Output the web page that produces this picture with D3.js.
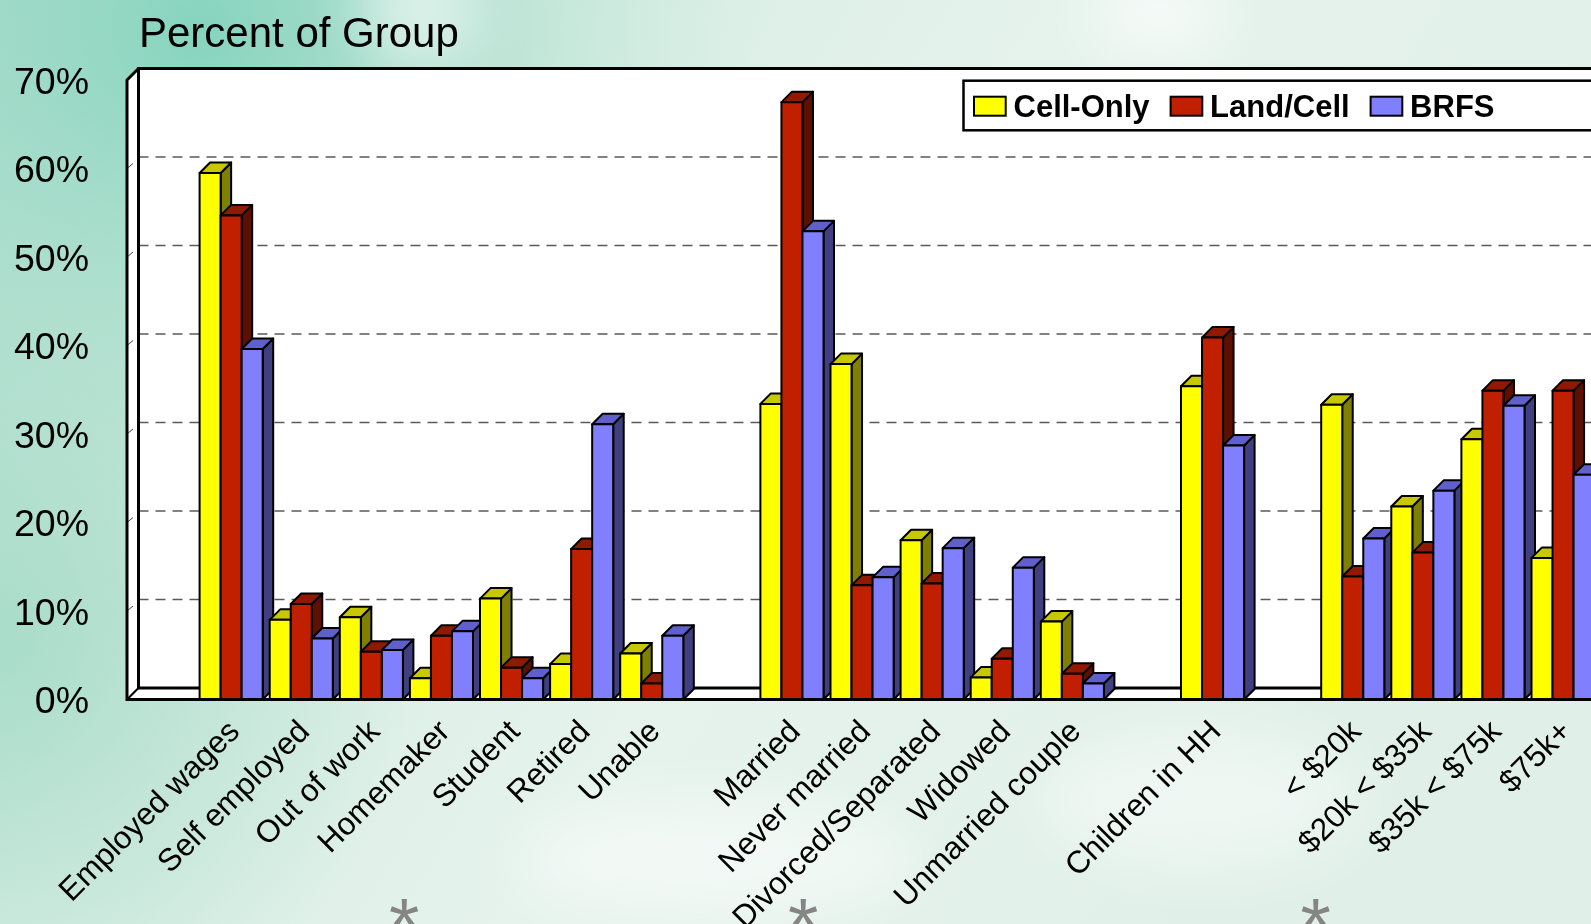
<!DOCTYPE html>
<html>
<head>
<meta charset="utf-8">
<script src="https://cdn.jsdelivr.net/npm/d3@7"></script>
<style>
  html, body { margin: 0; padding: 0; overflow: hidden; background: #e3f1ea; }
  svg { display: block; }
</style>
</head>
<body>
<svg id="chart" width="1591" height="924"></svg>
<script>
// ---- data ----
const titleText = "Percent of Group";
const seriesNames = ["Cell-Only", "Land/Cell", "BRFS"];
const categories = [
  "Employed wages", "Self employed", "Out of work", "Homemaker", "Student", "Retired", "Unable",
  "Married", "Never married", "Divorced/Separated", "Widowed", "Unmarried couple",
  "Children in HH",
  "< $20k", "$20k < $35k", "$35k < $75k", "$75k+"
];
// number of categories in each block (a blank slot precedes every block)
const groupSizes = [7, 5, 1, 4];
// blocks flagged with an asterisk
const flaggedGroups = [0, 1, 3];
const cellOnly = [59.5, 9.0, 9.3, 2.4, 11.4, 4.0, 5.2, 33.4, 37.9, 18.0, 2.5, 8.8, 35.4, 33.3, 21.8, 29.4, 16.0];
const landCell = [54.7, 10.8, 5.4, 7.2, 3.6, 17.0, 1.8, 67.5, 12.9, 13.1, 4.6, 2.9, 40.9, 13.9, 16.6, 34.9, 34.9];
const brfs     = [39.6, 6.9, 5.6, 7.7, 2.4, 31.1, 7.2, 52.9, 13.8, 17.1, 14.9, 1.8, 28.7, 18.2, 23.6, 33.2, 25.4];
const yTicks = [0, 10, 20, 30, 40, 50, 60, 70];

// ---- layout ----
const W = 1591, H = 924;
const svg = d3.select("#chart");
const defs = svg.append("defs");
const FONT = "Liberation Sans, Arial, sans-serif";

const frontLeft = 127;      // front edge of the left wall
const slotStep = 70.1;      // width of one category slot
const wallDepth = 11.5;     // 3-D depth of walls / floor
const barDepth = 10.5;      // 3-D depth of each column
const barGap = 7;           // space between neighbouring clusters

// slot list: blank slot, then the categories of each block
const slots = [];
let ci = 0;
const groupStartSlot = [];
groupSizes.forEach(n => {
  slots.push(null);
  groupStartSlot.push(slots.length);
  for (let k = 0; k < n; k++) slots.push(ci++);
});
const nSlots = slots.length;

const x = d3.scaleBand()
  .domain(d3.range(nSlots))
  .range([frontLeft - 1, frontLeft - 1 + slotStep * nSlots])
  .padding(0);
const xs = d3.scaleBand()
  .domain(seriesNames)
  .range([barGap / 2, x.bandwidth() - barGap / 2])
  .padding(0);
const y = d3.scaleLinear().domain([0, 70]).range([699.5, 80]);
const rightEdge = W + 60;

const seriesValues = [cellOnly, landCell, brfs];
const palette = [
  { front: "#ffff00", top: "#c8c800", side: "#7f7f00" },
  { front: "#c02000", top: "#8f1a00", side: "#5e1000" },
  { front: "#8080ff", top: "#6060cc", side: "#404080" }
];

// ---- background ----
const base = defs.append("linearGradient").attr("id", "bgBase")
  .attr("x1", 0).attr("x2", 1).attr("y1", 0).attr("y2", 0.35);
base.append("stop").attr("offset", 0).attr("stop-color", "#a9dccb");
base.append("stop").attr("offset", 0.3).attr("stop-color", "#d6ede3");
base.append("stop").attr("offset", 0.6).attr("stop-color", "#e6f3ed");
base.append("stop").attr("offset", 1).attr("stop-color", "#e0f0e8");

const tl = defs.append("radialGradient").attr("id", "bgTL")
  .attr("gradientUnits", "userSpaceOnUse")
  .attr("cx", 200).attr("cy", 30).attr("r", 560);
tl.append("stop").attr("offset", 0).attr("stop-color", "#86d4be").attr("stop-opacity", 1);
tl.append("stop").attr("offset", 0.45).attr("stop-color", "#9fdac7").attr("stop-opacity", 0.6);
tl.append("stop").attr("offset", 1).attr("stop-color", "#bfe5d7").attr("stop-opacity", 0);

const bl = defs.append("radialGradient").attr("id", "bgBL")
  .attr("gradientUnits", "userSpaceOnUse")
  .attr("cx", 0).attr("cy", 640).attr("r", 420);
bl.append("stop").attr("offset", 0).attr("stop-color", "#a6dbc8").attr("stop-opacity", 0.9);
bl.append("stop").attr("offset", 1).attr("stop-color", "#a6dbc8").attr("stop-opacity", 0);

defs.append("filter").attr("id", "haze")
  .attr("x", "-50%").attr("y", "-50%").attr("width", "200%").attr("height", "200%")
  .append("feGaussianBlur").attr("stdDeviation", 28);

const bg = svg.append("g");
bg.append("rect").attr("width", W).attr("height", H).attr("fill", "url(#bgBase)");
bg.append("rect").attr("width", W).attr("height", H).attr("fill", "url(#bgTL)");
bg.append("rect").attr("width", W).attr("height", H).attr("fill", "url(#bgBL)");
// soft light streaks
const streaks = bg.append("g").attr("filter", "url(#haze)").attr("fill", "#ffffff");
streaks.append("ellipse").attr("cx", 420).attr("cy", 10).attr("rx", 60).attr("ry", 60).attr("opacity", 0.55);
streaks.append("ellipse").attr("cx", 1160).attr("cy", 15).attr("rx", 70).attr("ry", 45).attr("opacity", 0.6);
streaks.append("ellipse").attr("cx", 720).attr("cy", 860).attr("rx", 200).attr("ry", 60).attr("opacity", 0.5);
streaks.append("ellipse").attr("cx", 1200).attr("cy", 800).attr("rx", 160).attr("ry", 70).attr("opacity", 0.45);

// ---- title ----
svg.append("text")
  .attr("x", 139).attr("y", 46.5)
  .attr("font-family", FONT)
  .attr("font-size", 42)
  .attr("fill", "#000")
  .text(titleText);

// ---- walls and floor ----
const backLeft = frontLeft + wallDepth;
const yBack = v => y(v) - wallDepth;
const plot = svg.append("g");
const line = d3.line();

plot.append("path") // back wall
  .attr("d", line([[backLeft, yBack(70)], [rightEdge, yBack(70)], [rightEdge, yBack(0)], [backLeft, yBack(0)]]) + "Z")
  .attr("fill", "#fff");
plot.append("path") // left wall
  .attr("d", line([[frontLeft, y(70)], [backLeft, yBack(70)], [backLeft, yBack(0)], [frontLeft, y(0)]]) + "Z")
  .attr("fill", "#fff");
plot.append("path") // floor
  .attr("d", line([[frontLeft, y(0)], [backLeft, yBack(0)], [rightEdge, yBack(0)], [rightEdge, y(0)]]) + "Z")
  .attr("fill", "#fff");

// gridlines on the back wall
plot.append("g").selectAll("line")
  .data(yTicks.filter(t => t > 0 && t < 70))
  .join("line")
  .attr("x1", backLeft).attr("x2", rightEdge)
  .attr("y1", d => yBack(d)).attr("y2", d => yBack(d))
  .attr("stroke", "#5a5a5a").attr("stroke-width", 1.5)
  .attr("stroke-dasharray", "10,7");

// tick marks on the left wall edge
plot.append("g").selectAll("line")
  .data(yTicks.filter(t => t > 0 && t < 70))
  .join("line")
  .attr("x1", frontLeft).attr("y1", d => y(d))
  .attr("x2", frontLeft + 6).attr("y2", d => y(d) - 5)
  .attr("stroke", "#444").attr("stroke-width", 1);

// frame edges
const edges = plot.append("g").attr("fill", "none").attr("stroke", "#000")
  .attr("stroke-linejoin", "round").attr("stroke-linecap", "square");
edges.append("path").attr("stroke-width", 3)
  .attr("d", line([[rightEdge, yBack(70)], [backLeft, yBack(70)], [frontLeft, y(70)], [frontLeft, y(0)]]));
edges.append("path").attr("stroke-width", 3)
  .attr("d", line([[backLeft, yBack(70)], [backLeft, yBack(0)], [rightEdge, yBack(0)]]));
edges.append("path").attr("stroke-width", 2)
  .attr("d", line([[frontLeft, y(0)], [backLeft, yBack(0)]]));

// ---- columns ----
const bars = [];
slots.forEach((c, si) => {
  if (c === null) return;
  seriesNames.forEach((s, k) => {
    bars.push({ slot: si, cat: c, series: k, value: seriesValues[k][c] });
  });
});

const barG = plot.append("g")
  .attr("stroke", "#000").attr("stroke-width", 2).attr("stroke-linejoin", "round");
bars.forEach(b => {
  const x0 = x(b.slot) + xs(seriesNames[b.series]);
  const w = xs.bandwidth();
  const yt = y(b.value), yb = y(0), d = barDepth;
  const col = palette[b.series];
  const g = barG.append("g");
  g.append("path")
    .attr("d", line([[x0 + w, yt], [x0 + w + d, yt - d], [x0 + w + d, yb - d], [x0 + w, yb]]) + "Z")
    .attr("fill", col.side);
  g.append("path")
    .attr("d", line([[x0, yt], [x0 + d, yt - d], [x0 + w + d, yt - d], [x0 + w, yt]]) + "Z")
    .attr("fill", col.top);
  g.append("rect")
    .attr("x", x0).attr("y", yt).attr("width", w).attr("height", yb - yt)
    .attr("fill", col.front);
});

// front edge of the floor
plot.append("line")
  .attr("x1", frontLeft).attr("x2", rightEdge)
  .attr("y1", y(0)).attr("y2", y(0))
  .attr("stroke", "#000").attr("stroke-width", 3);

// ---- y axis labels ----
svg.append("g").selectAll("text")
  .data(yTicks)
  .join("text")
  .attr("x", 89)
  .attr("y", d => y(d) + 13.5)
  .attr("text-anchor", "end")
  .attr("font-family", FONT)
  .attr("font-size", 37.5)
  .attr("fill", "#000")
  .text(d => d + "%");

// ---- category labels ----
svg.append("g").selectAll("text")
  .data(slots.map((c, si) => ({ c, si })).filter(d => d.c !== null))
  .join("text")
  .attr("transform", d => `translate(${x(d.si) + x.bandwidth() / 2 + 10},733) rotate(-45)`)
  .attr("text-anchor", "end")
  .attr("font-family", FONT)
  .attr("font-size", 31.5)
  .attr("fill", "#000")
  .text(d => categories[d.c]);

// ---- asterisks under flagged blocks ----
const slotPos = d3.scaleLinear().domain([0, nSlots]).range(x.range());
const starOffset = [2.97, 0.66, -0.03]; // position within each block, in slot units
svg.append("g").selectAll("text")
  .data(flaggedGroups.map((g, i) => ({ g, i })))
  .join("text")
  .attr("x", d => slotPos(groupStartSlot[d.g] + starOffset[d.i]))
  .attr("y", 953)
  .attr("text-anchor", "middle")
  .attr("font-family", FONT)
  .attr("font-size", 78)
  .attr("fill", "#858585")
  .text("*");

// ---- legend ----
const legend = svg.append("g");
legend.append("rect")
  .attr("x", 963.5).attr("y", 80.7).attr("width", 700).attr("height", 49.6)
  .attr("fill", "#fff").attr("stroke", "#000").attr("stroke-width", 2.5);
let lx = 974;
seriesNames.forEach((s, k) => {
  legend.append("rect")
    .attr("x", lx).attr("y", 96.7).attr("width", 31.7).attr("height", 19)
    .attr("fill", palette[k].front).attr("stroke", "#000").attr("stroke-width", 2);
  const t = legend.append("text")
    .attr("x", lx + 39.5).attr("y", 116.5)
    .attr("font-family", FONT)
    .attr("font-weight", "bold")
    .attr("font-size", 31)
    .attr("fill", "#000")
    .text(s);
  lx = lx + 39.5 + t.node().getComputedTextLength() + 21;
});
</script>
</body>
</html>
